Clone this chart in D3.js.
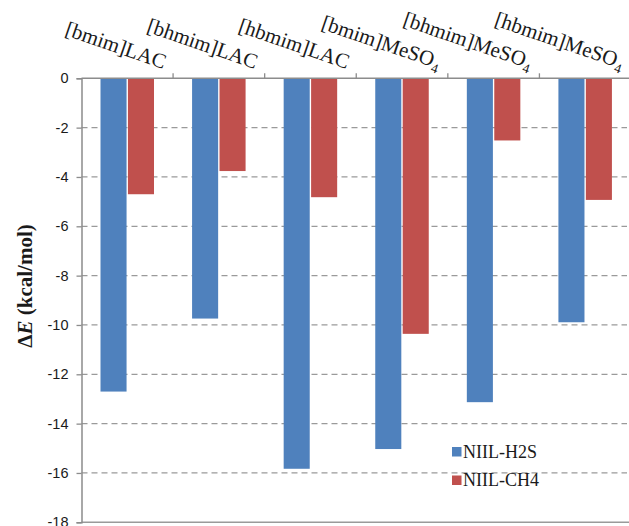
<!DOCTYPE html>
<html>
<head>
<meta charset="utf-8">
<script src="https://cdn.jsdelivr.net/npm/d3@7"></script>
<style>
  html, body { margin: 0; padding: 0; background: #fff; }
  svg { display: block; }
</style>
</head>
<body>
<svg id="chart" width="629" height="526"></svg>
<script>
// Ionic liquid pairs on the category axis (cation part, anion part)
const cations = ["[bmim]", "[bhmim]", "[hbmim]", "[bmim]", "[bhmim]", "[hbmim]"];
const anions = ["LAC", "LAC", "LAC", "MeSO", "MeSO", "MeSO"];
const anionSub = ["", "", "", "4", "4", "4"];

// Interaction energies, kcal/mol
const seriesNames = ["NIIL-H2S", "NIIL-CH4"];
const h2sValues = [-12.70, -9.74, -15.83, -15.03, -13.13, -9.89];
const ch4Values = [-4.70, -3.76, -4.82, -10.36, -2.52, -4.93];
const seriesColors = ["#4F81BD", "#C0504D"];

const yTicks = [0, -2, -4, -6, -8, -10, -12, -14, -16, -18];

const svg = d3.select("#chart");
const plotLeft = 81.5, plotRight = 631, plotTop = 78.3, plotBottom = 522.3;

const idx = d3.range(cations.length);
const x0 = d3.scaleBand().domain(idx).range([plotLeft, plotRight]).padding(0);
const x1 = d3.scaleBand().domain(seriesNames)
  .range([19, 19 + 53.5]).paddingInner(0.05).paddingOuter(0);
const y = d3.scaleLinear().domain([-18, 0]).range([plotBottom, plotTop]);

const seriesData = [h2sValues, ch4Values];

// dashed horizontal gridlines
svg.append("g")
  .selectAll("line")
  .data(yTicks.filter(t => t !== 0 && t !== -18))
  .join("line")
  .attr("x1", plotLeft).attr("x2", 627)
  .attr("y1", d => y(d)).attr("y2", d => y(d))
  .attr("stroke", "#9a9a9a")
  .attr("stroke-width", 1.3)
  .attr("stroke-dasharray", "6,4");

// bars
const groups = svg.append("g").selectAll("g")
  .data(idx).join("g")
  .attr("transform", i => `translate(${x0(i)},0)`);

groups.selectAll("rect")
  .data(i => seriesNames.map((s, k) => ({ s, k, v: seriesData[k][i] })))
  .join("rect")
  .attr("x", d => x1(d.s))
  .attr("width", x1.bandwidth())
  .attr("y", y(0))
  .attr("height", d => y(d.v) - y(0))
  .attr("fill", d => seriesColors[d.k]);

// bottom boundary line
svg.append("line")
  .attr("x1", plotLeft).attr("x2", 629)
  .attr("y1", y(-18)).attr("y2", y(-18))
  .attr("stroke", "#9a9a9a").attr("stroke-width", 1.5);

// value axis on the left
const yAxis = d3.axisLeft(y).tickValues(yTicks).tickSize(5).tickPadding(8)
  .tickFormat(d => String(d));
const ya = svg.append("g").attr("transform", `translate(${plotLeft},0)`).call(yAxis);
ya.select(".domain").attr("stroke", "#8c8c8c").attr("stroke-width", 1.5);
ya.selectAll(".tick line").attr("stroke", "#8c8c8c").attr("stroke-width", 1.3);
ya.selectAll(".tick text")
  .attr("font-family", "'Liberation Sans', Arial, sans-serif")
  .attr("font-size", 14.5)
  .attr("fill", "#1a1a1a");

// category axis along zero, ticks pointing up between groups
svg.append("line")
  .attr("x1", plotLeft).attr("x2", 629)
  .attr("y1", y(0)).attr("y2", y(0))
  .attr("stroke", "#8c8c8c").attr("stroke-width", 1.5);
svg.append("g").selectAll("line")
  .data(idx.slice(1))
  .join("line")
  .attr("x1", i => x0(i)).attr("x2", i => x0(i))
  .attr("y1", y(0)).attr("y2", y(0) - 5)
  .attr("stroke", "#8c8c8c").attr("stroke-width", 1.3);

// rotated category labels
const labels = svg.append("g").selectAll("text")
  .data(idx).join("text")
  .attr("transform", i => `translate(${x0(i) + x0.bandwidth() / 2 + 36},69) rotate(19)`)
  .attr("text-anchor", "end")
  .attr("font-family", "'Liberation Serif', 'Times New Roman', serif")
  .attr("font-size", 21)
  .attr("fill", "#1a1a1a");
labels.append("tspan").text(i => cations[i] + anions[i]);
labels.filter(i => anionSub[i] !== "")
  .append("tspan")
  .attr("font-size", 13.5)
  .attr("dy", 5)
  .text(i => anionSub[i]);

// value axis title
const title = svg.append("text")
  .attr("transform", "translate(32,286) rotate(-90)")
  .attr("text-anchor", "middle")
  .attr("font-family", "'Liberation Serif', 'Times New Roman', serif")
  .attr("font-size", 21)
  .attr("font-weight", "bold")
  .attr("fill", "#1a1a1a");
title.append("tspan").text("\u0394");
title.append("tspan").attr("font-style", "italic").text("E");
title.append("tspan").text(" (kcal/mol)");

// legend
const legend = svg.append("g").selectAll("g")
  .data(seriesNames).join("g")
  .attr("transform", (d, k) => `translate(452,${447 + k * 28.5})`);
legend.append("rect")
  .attr("width", 9.5).attr("height", 9.5)
  .attr("fill", (d, k) => seriesColors[k]);
legend.append("text")
  .attr("x", 11).attr("y", 10.5)
  .attr("font-family", "'Liberation Serif', 'Times New Roman', serif")
  .attr("font-size", 18)
  .attr("fill", "#1a1a1a")
  .text(d => d);
</script>
</body>
</html>
